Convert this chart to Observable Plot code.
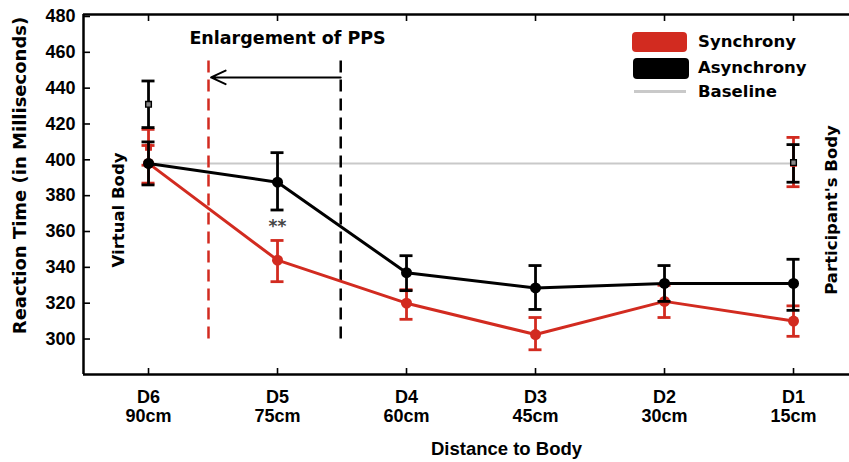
<!DOCTYPE html>
<html>
<head>
<meta charset="utf-8">
<script src="https://cdn.jsdelivr.net/npm/d3@7"></script>
<script src="https://cdn.jsdelivr.net/npm/@observablehq/plot@0.6"></script>
<style>
  html, body { margin: 0; padding: 0; background: #fff; }
  #wrap { position: relative; width: 849px; height: 462px; overflow: hidden; }
  #legend { position: absolute; left: 0; top: 0; font-family: "DejaVu Sans", sans-serif; font-weight: bold; font-size: 16.5px; color: #000; }
  .sw { position: absolute; }
  .lt { position: absolute; line-height: 1; white-space: nowrap; transform: translateY(-50%); }
</style>
</head>
<body>
<div id="wrap"><div id="legend"></div></div>
<script>
// ---- data ----
const categories = ["D6", "D5", "D4", "D3", "D2", "D1"];
const distances = ["90cm", "75cm", "60cm", "45cm", "30cm", "15cm"];
const syncMean  = [398, 344, 320, 302.5, 321, 310];
const syncLow   = [387, 332, 311, 294, 312, 301.5];
const syncHigh  = [408, 355, 327.5, 312, 330, 318.5];
const asyncMean = [398, 387.5, 337, 328.5, 331, 331];
const asyncLow  = [386, 372, 327, 316.5, 321, 316];
const asyncHigh = [410, 404, 346.5, 341, 341, 344.5];
// baseline (no-stimulus) measures at the virtual body (D6 side) and participant's body (D1 side)
const baselineValue = 398;
const baselineSide = ["Virtual Body", "Participant's Body"];
const baselineSync  = [407, 398];
const baselineSyncLow  = [397, 385];
const baselineSyncHigh = [417, 412.5];
const baselineAsync = [431, 398.5];
const baselineAsyncLow  = [418, 387.5];
const baselineAsyncHigh = [444, 408.5];
// annotation: peripersonal-space boundaries (in distance-step units) and labels
const ppsBoundary = [0.465, 1.49];
const ppsTop = 459, ppsBottom = 300;
const arrowLevel = 446;
const significance = "**";
const yTicks = [300, 320, 340, 360, 380, 400, 420, 440, 460, 480];
const legendLabels = ["Synchrony", "Asynchrony", "Baseline"];

const RED = "#d22b20";
const BLACK = "#000000";
const GREY = "#c9c9c9";

const idx = categories.map((_, i) => i);
const rows = (mean, lo, hi) => idx.map(i => ({x: i, y: mean[i], lo: lo[i], hi: hi[i]}));
const sync = rows(syncMean, syncLow, syncHigh);
const asyn = rows(asyncMean, asyncLow, asyncHigh);
const baseX = [0, categories.length - 1];
const bSync = baseX.map((x, i) => ({x, y: baselineSync[i], lo: baselineSyncLow[i], hi: baselineSyncHigh[i]}));
const bAsync = baseX.map((x, i) => ({x, y: baselineAsync[i], lo: baselineAsyncLow[i], hi: baselineAsyncHigh[i]}));

const errMarks = (data, color) => [
  Plot.ruleX(data, {x: "x", y1: "lo", y2: "hi", stroke: color, strokeWidth: 2.8}),
  Plot.ruleY(data, {y: "lo", x1: "x", x2: "x", insetLeft: -6.5, insetRight: -6.5, stroke: color, strokeWidth: 2.8}),
  Plot.ruleY(data, {y: "hi", x1: "x", x2: "x", insetLeft: -6.5, insetRight: -6.5, stroke: color, strokeWidth: 2.8})
];

const TXT = "DejaVu Sans, sans-serif";

const chart = Plot.plot({
  width: 849,
  height: 462,
  marginLeft: 83,
  marginRight: 0,
  marginTop: 14,
  marginBottom: 88,
  x: {domain: [-0.504, 5.434], axis: null},
  y: {domain: [280.2, 481.1], axis: null},
  style: {fontFamily: "Liberation Sans, Arial, sans-serif", fontWeight: "bold", background: "white", color: "black"},
  marks: [
    // frame
    Plot.ruleX([-0.504], {stroke: BLACK, strokeWidth: 2.5}),
    Plot.ruleY([280.2], {stroke: BLACK, strokeWidth: 2.5}),
    Plot.ruleY([481.1], {stroke: BLACK, strokeWidth: 2.5}),
    Plot.axisY(yTicks, {anchor: "left", tickSize: -7, tickPadding: 15, fontSize: 18, fontWeight: "bold", strokeWidth: 1.6, label: null}),
    Plot.axisX(idx, {anchor: "bottom", tickSize: -6, tickPadding: 21, fontSize: 18, fontWeight: "bold", lineHeight: 1.06, strokeWidth: 1.6,
      tickFormat: i => categories[i] + "\n" + distances[i], label: null}),
    Plot.axisX(idx, {anchor: "top", tickSize: -6, strokeWidth: 1.6, tickFormat: () => "", label: null}),
    // baseline
    Plot.ruleY([baselineValue], {x1: baseX[0], x2: baseX[1], stroke: GREY, strokeWidth: 2}),
    // PPS boundaries and arrow
    Plot.ruleX(ppsBoundary, {x: d => d, y1: ppsBottom, y2: ppsTop, stroke: [RED, BLACK], strokeWidth: 2.5, strokeDasharray: "12,7"}),
    Plot.arrow([0], {x1: ppsBoundary[1], x2: ppsBoundary[0] + 0.02, y1: arrowLevel, y2: arrowLevel, stroke: BLACK, strokeWidth: 2, headLength: 12, headAngle: 50}),
    Plot.text(["Enlargement of PPS"], {x: (ppsBoundary[0] + ppsBoundary[1]) / 2 + 0.1, y: 467.7, text: d => d, fontFamily: TXT, fontSize: 17.5, fontWeight: "bold", fill: BLACK}),
    Plot.text([significance], {x: 1, y: 362.5, text: d => d, fontFamily: TXT, fontSize: 17, fontWeight: "bold", fill: "#444", letterSpacing: 3}),
    // baseline measures
    ...errMarks(bSync, RED),
    ...errMarks(bAsync, BLACK),
    Plot.dot(bSync, {x: "x", y: "y", symbol: "square", r: 3.2, fill: "#b33", stroke: RED, strokeWidth: 1.2}),
    Plot.dot(bAsync, {x: "x", y: "y", symbol: "square", r: 3.2, fill: "#888", stroke: BLACK, strokeWidth: 1.4}),
    // synchrony
    ...errMarks(sync, RED),
    Plot.line(sync, {x: "x", y: "y", stroke: RED, strokeWidth: 3}),
    Plot.dot(sync, {x: "x", y: "y", r: 5.5, fill: RED}),
    // asynchrony
    ...errMarks(asyn, BLACK),
    Plot.line(asyn, {x: "x", y: "y", stroke: BLACK, strokeWidth: 3}),
    Plot.dot(asyn, {x: "x", y: "y", r: 5.5, fill: BLACK}),
    // side labels
    Plot.text(baselineSide, {x: [-0.23, 5.30], y: [372, 372], text: d => d, rotate: -90, fontFamily: TXT, fontSize: 16.5, fontWeight: "bold", fill: BLACK}),
    // axis titles
    Plot.text(["Reaction Time (in Milliseconds)"], {frameAnchor: "left", textAnchor: "middle", dx: -63, dy: -19, rotate: -90, text: d => d, fontFamily: TXT, fontSize: 18, fontWeight: "bold", fill: BLACK}),
    Plot.text(["Distance to Body"], {frameAnchor: "bottom", textAnchor: "middle", dx: 40, dy: 80, text: d => d, fontSize: 18.5, fontWeight: "bold", fill: BLACK})
  ]
});

const wrap = document.getElementById("wrap");
wrap.insertBefore(chart, wrap.firstChild);

// legend
const legend = document.getElementById("legend");
const swatches = [
  {color: RED, left: 632, top: 32, w: 55, h: 20, r: 4},
  {color: BLACK, left: 633, top: 58, w: 56, h: 21, r: 4},
  {color: GREY, left: 634, top: 90, w: 52, h: 3, r: 0}
];
const textY = [42, 68, 92];
legendLabels.forEach((lab, i) => {
  const s = swatches[i];
  const sw = document.createElement("div");
  sw.className = "sw";
  Object.assign(sw.style, {left: s.left + "px", top: s.top + "px", width: s.w + "px", height: s.h + "px", background: s.color, borderRadius: s.r + "px"});
  legend.appendChild(sw);
  const t = document.createElement("div");
  t.className = "lt";
  t.textContent = lab;
  Object.assign(t.style, {left: "698px", top: textY[i] + "px"});
  legend.appendChild(t);
});
</script>
</body>
</html>
